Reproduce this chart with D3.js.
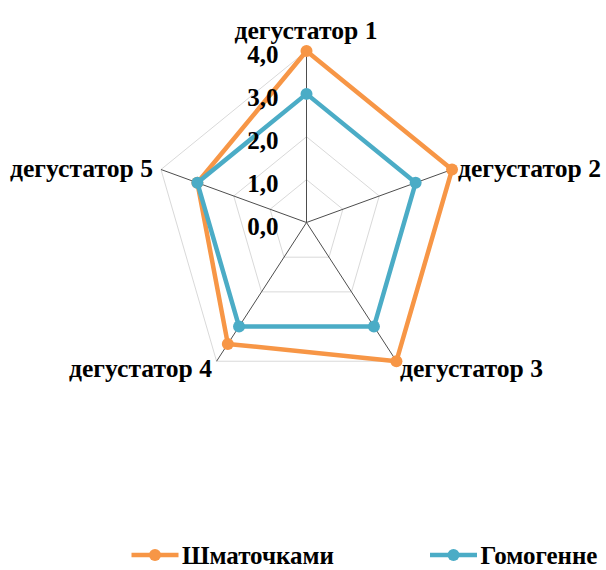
<!DOCTYPE html>
<html>
<head>
<meta charset="utf-8">
<script src="https://cdn.jsdelivr.net/npm/d3@7"></script>
</head>
<body style="margin:0">
<svg id="chart" width="606" height="570"></svg>
<script>
const categories = ["дегустатор 1", "дегустатор 2", "дегустатор 3", "дегустатор 4", "дегустатор 5"];
const seriesNames = ["Шматочками", "Гомогенне"];
const shmatochkami = [4.0, 4.0, 4.0, 3.5, 3.0];
const homohenne = [3.0, 3.0, 3.0, 3.0, 3.0];
const tickValues = [0, 1, 2, 3, 4];
const tickLabels = ["0,0", "1,0", "2,0", "3,0", "4,0"];
const colors = ["#F79646", "#4BACC6"];

const svg = d3.select("#chart");
const cx = 306.5, cy = 222.5;
const rX = d3.scaleLinear().domain([0, 4]).range([0, 153]);
const rY = d3.scaleLinear().domain([0, 4]).range([0, 171.5]);
const angle = d3.scaleLinear().domain([0, categories.length]).range([0, 2 * Math.PI]);

function pt(i, v) {
  const a = angle(i);
  return [cx + rX(v) * Math.sin(a), cy - rY(v) * Math.cos(a)];
}

const ringLine = d3.line().curve(d3.curveLinearClosed);
svg.append("g").selectAll("path").data(tickValues.filter(t => t > 0)).join("path")
  .attr("d", t => ringLine(categories.map((c, i) => pt(i, t))))
  .attr("fill", "none").attr("stroke", "#d9d9d9").attr("stroke-width", 1);

svg.append("g").selectAll("line").data(categories).join("line")
  .attr("x1", cx).attr("y1", cy)
  .attr("x2", (d, i) => pt(i, 4)[0]).attr("y2", (d, i) => pt(i, 4)[1])
  .attr("stroke", "#4d4d4d").attr("stroke-width", 1);

const seriesData = [shmatochkami, homohenne];
seriesData.forEach((vals, s) => {
  const g = svg.append("g");
  g.append("path")
    .attr("d", ringLine(vals.map((v, i) => pt(i, v))))
    .attr("fill", "none").attr("stroke", colors[s]).attr("stroke-width", 4.5)
    .attr("stroke-linejoin", "round");
  g.selectAll("circle").data(vals).join("circle")
    .attr("cx", (v, i) => pt(i, v)[0]).attr("cy", (v, i) => pt(i, v)[1])
    .attr("r", 6).attr("fill", colors[s]);
});

svg.append("g").selectAll("text").data(tickValues).join("text")
  .attr("x", 278.5).attr("y", t => cy - rY(t) + 12)
  .attr("text-anchor", "end")
  .attr("font-family", "Liberation Serif").attr("font-weight", "bold").attr("font-size", 25)
  .text((t, i) => tickLabels[i]);

const labelPos = [
  { x: 306, y: 38.5, anchor: "middle" },
  { x: 458, y: 177, anchor: "start" },
  { x: 400, y: 376.5, anchor: "start" },
  { x: 212, y: 376.5, anchor: "end" },
  { x: 153, y: 177, anchor: "end" }
];
svg.append("g").selectAll("text").data(categories).join("text")
  .attr("x", (d, i) => labelPos[i].x).attr("y", (d, i) => labelPos[i].y)
  .attr("text-anchor", (d, i) => labelPos[i].anchor)
  .attr("font-family", "Liberation Serif").attr("font-weight", "bold").attr("font-size", 24.5)
  .attr("textLength", 143).attr("lengthAdjust", "spacingAndGlyphs")
  .text(d => d);

const legendX = [131.5, 430];
const lg = svg.append("g").selectAll("g").data(seriesNames).join("g")
  .attr("transform", (d, i) => `translate(${legendX[i]},555)`);
lg.append("line").attr("x1", 0).attr("x2", 47).attr("y1", 0).attr("y2", 0)
  .attr("stroke", (d, i) => colors[i]).attr("stroke-width", 4.5);
lg.append("circle").attr("cx", 23.5).attr("cy", 0).attr("r", 6).attr("fill", (d, i) => colors[i]);
lg.append("text").attr("x", 50.5).attr("y", 9)
  .attr("font-family", "Liberation Serif").attr("font-weight", "bold").attr("font-size", 25)
  .text(d => d);
</script>
</body>
</html>
